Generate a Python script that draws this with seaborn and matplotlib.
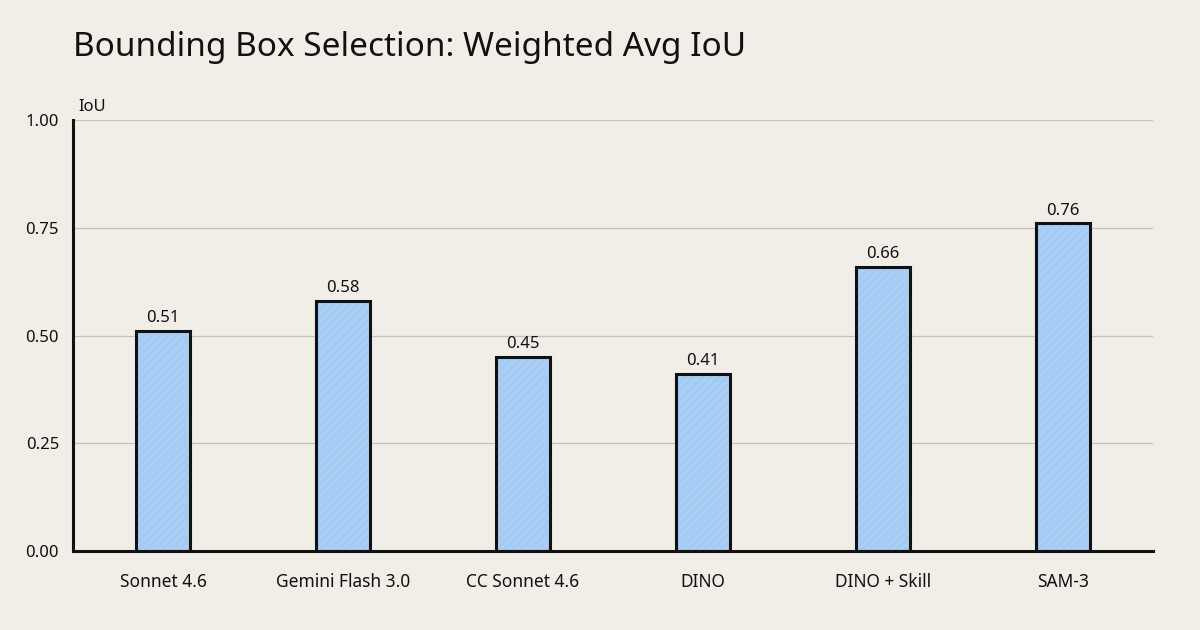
import matplotlib
matplotlib.use("Agg")
import matplotlib.pyplot as plt
import seaborn as sns
import pandas as pd

categories = ["Sonnet 4.6", "Gemini Flash 3.0", "CC Sonnet 4.6", "DINO", "DINO + Skill", "SAM-3"]
values = [0.51, 0.58, 0.45, 0.41, 0.66, 0.76]
yticks = [0.0, 0.25, 0.5, 0.75, 1.0]
ytick_labels = ["0.00", "0.25", "0.50", "0.75", "1.00"]

BG = "#f1ede7"
BAR = "#a3cbf3"
HATCH = "#b4d4f4"

sns.set_theme(style="white")
plt.rcParams["font.family"] = ["Noto Sans", "DejaVu Sans"]
plt.rcParams["hatch.linewidth"] = 0.8

df = pd.DataFrame({"model": categories, "iou": values})

fig = plt.figure(figsize=(12, 6.3), dpi=100, facecolor=BG)
ax = fig.add_axes([0.0608, 0.1254, 0.9002, 0.6841])
ax.set_facecolor(BG)

# filled, hatched bars (hatch drawn in a light tint)
sns.barplot(data=df, x="model", y="iou", ax=ax, color=BAR, width=0.3,
            saturation=1, edgecolor=HATCH, linewidth=0, zorder=3)
for p in ax.patches:
    p.set_hatch("////")
    p.set_edgecolor(HATCH)
    p.set_linewidth(0)
# black outlines
sns.barplot(data=df, x="model", y="iou", ax=ax, fill=False, width=0.3,
            edgecolor="#111111", linewidth=2.2, zorder=4)

for i, v in enumerate(values):
    ax.annotate(f"{v:.2f}", (i, v), xytext=(0, 3.5), textcoords="offset points",
                ha="center", va="bottom", fontsize=12, color="#111111", zorder=5)

ax.set_xlim(-0.5, 5.5)
ax.set_ylim(0, 1.0)
ax.set_yticks(yticks)
ax.set_yticklabels(ytick_labels)
ax.yaxis.grid(True, color="#c4c2bf", linewidth=0.9, zorder=0)
ax.set_axisbelow(True)
ax.tick_params(axis="x", length=0, labelsize=12.5, colors="#111111", pad=16)
ax.tick_params(axis="y", length=0, labelsize=12, colors="#111111", pad=10)
ax.set_xlabel("")
ax.set_ylabel("")
for s in ["top", "right"]:
    ax.spines[s].set_visible(False)
for s in ["left", "bottom"]:
    ax.spines[s].set_color("#111111")
    ax.spines[s].set_linewidth(2.2)
    ax.spines[s].set_zorder(6)

ax.text(0.005, 1.012, "IoU", transform=ax.transAxes, fontsize=12, ha="left", va="bottom", color="#111111")
fig.text(0.0608, 0.925, "Bounding Box Selection: Weighted Avg IoU", fontsize=24,
         ha="left", va="center", color="#111111")

fig.savefig("out.png", dpi=100, facecolor=BG)
